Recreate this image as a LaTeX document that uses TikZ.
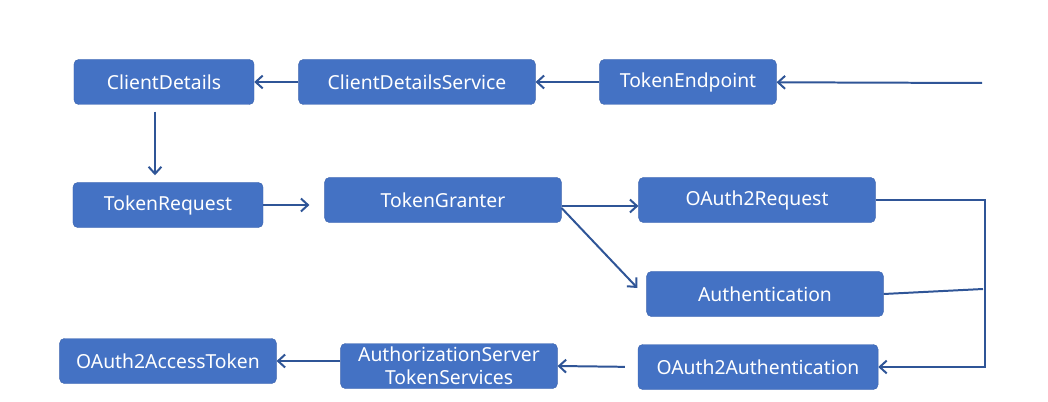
\documentclass[tikz,border=0pt]{standalone}
\usepackage{fontspec}
\setmainfont{Noto Sans}
\usetikzlibrary{arrows.meta, positioning}
\definecolor{boxblue}{HTML}{4472C4}
\definecolor{boxline}{HTML}{3A62AD}
\definecolor{flowline}{HTML}{2F5597}

\begin{document}
\begin{tikzpicture}[x=0.03cm, y=-0.03cm,
    box/.style={draw=boxline, fill=boxblue, rounded corners=4pt, text=white,
        minimum height=1.35cm, inner sep=0pt, align=center,
        font=\fontsize{16.5}{20}\selectfont},
    flow/.style={flowline, line width=1.7pt, -{Straight Barb[length=6pt, width=11pt]}}]
    \useasboundingbox (0,0) rectangle (1048,402);

    % top row
    \node[box, minimum width=5.4cm] (details) at (164,82) {ClientDetails};
    \node[box, minimum width=7.1cm] (service) at (417,82) {ClientDetailsService};
    \node[box, minimum width=5.3cm] (endpoint) at (688,82) {TokenEndpoint};
    \coordinate (entry) at (982,83);

    % middle rows
    \node[box, minimum width=5.7cm] (request) at (168,205) {TokenRequest};
    \node[box, minimum width=7.1cm] (granter) at (443,200) {TokenGranter};
    \node[box, minimum width=7.1cm] (oreq) at (757,200) {OAuth2Request};
    \node[box, minimum width=7.1cm] (auth) at (765,294) {Authentication};

    % bottom row
    \node[box, minimum width=6.5cm] (access) at (168,361) {OAuth2AccessToken};
    \node[box, minimum width=6.5cm] (tokensvc) at (449,366) {AuthorizationServer\\TokenServices};
    \node[box, minimum width=7.2cm] (oauth) at (758,367) {OAuth2Authentication};
    \coordinate (join) at (983,289);

    % connectors
    \draw[flow] (entry) -- (endpoint);
    \draw[flow] (endpoint) -- (service);
    \draw[flow] (service) -- (details);
    \draw[flow] ([shift={(-9,7)}]details.south) -- ([shift={(-13,-7)}]request.north);
    \draw[flow, shorten >=0.45cm] (request.east) -- (request.east -| granter.west);
    \draw[flow] ([yshift=-0.18cm]granter.east) -- ([yshift=-0.18cm]oreq.west);
    \draw[flow] ([yshift=-0.24cm]granter.east) -- ([shift={(-0.27cm,0.18cm)}]auth.west);
    \draw[flow] (oreq.east) -- ++(109,0) |- (oauth.east);
    \draw[flowline, line width=1.7pt] (auth.east) -- (join);
    \draw[flow, shorten <=0.39cm] (oauth.west) -- (tokensvc.east);
    \draw[flow] (access.east -| tokensvc.west) -- (access.east);
\end{tikzpicture}
\end{document}
